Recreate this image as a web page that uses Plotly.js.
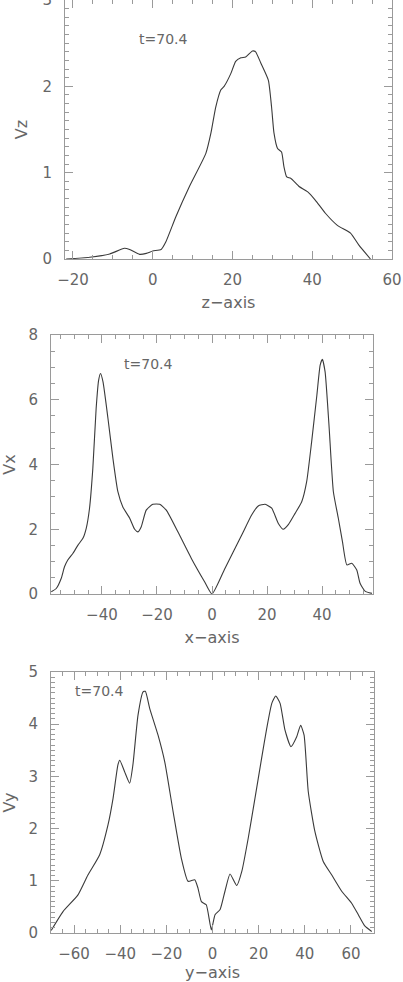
<!DOCTYPE html>
<html>
<head>
<meta charset="utf-8">
<script src="https://cdn.plot.ly/plotly-3.0.1.min.js"></script>
<style>
  html, body { margin: 0; padding: 0; background: #fff; }
  #chart { width: 403px; height: 982px; }
</style>
</head>
<body>
<div id="chart"></div>
<script>
// Vz along the z-axis
var zPos = [-21.7, -15.8, -10.8, -7.1, -5.8, -3.3, -1.6, 0, 2.1, 3.3, 5.8, 9.2, 13.3, 14.6, 15.8, 17.1, 17.9, 19.6, 20.8, 22.1, 23.3, 25.0, 25.8, 27.1, 29.0, 29.8, 30.4, 31.3, 32.3, 32.9, 33.6, 34.6, 36.7, 38.8, 40.8, 43.3, 46.3, 49.6, 51.7, 54.6];
var vz = [0, 0.02, 0.058, 0.124, 0.11, 0.054, 0.065, 0.093, 0.11, 0.2, 0.49, 0.84, 1.22, 1.46, 1.76, 1.96, 2.0, 2.15, 2.29, 2.33, 2.34, 2.41, 2.40, 2.27, 2.07, 1.76, 1.46, 1.28, 1.24, 1.07, 0.95, 0.935, 0.84, 0.78, 0.68, 0.53, 0.39, 0.30, 0.16, 0];

// Vx along the x-axis
var xPos = [-58.4, -56.6, -54.8, -53.6, -52.4, -50.5, -48.7, -46.9, -45.7, -44.5, -43.3, -42.1, -41.2, -40.5, -39.6, -37.8, -36.0, -34.2, -32.4, -29.9, -28.1, -26.9, -25.7, -23.9, -21.5, -19.0, -16.6, -12.4, -7.5, -2.7, 0, 4.7, 10.8, 14.4, 16.8, 19.3, 21.7, 24.1, 25.9, 27.8, 30.2, 32.6, 34.4, 36.2, 38.1, 39.3, 40.1, 41.1, 42.5, 44.1, 45.9, 47.4, 49.0, 50.8, 52.6, 53.8, 55.6, 58.1];
var vx = [0.07, 0.17, 0.48, 0.84, 1.05, 1.26, 1.51, 1.72, 2.03, 2.65, 3.88, 5.73, 6.6, 6.81, 6.55, 5.42, 4.19, 3.16, 2.69, 2.34, 2.0, 1.92, 2.08, 2.59, 2.77, 2.77, 2.59, 1.92, 1.10, 0.38, 0, 0.79, 1.82, 2.44, 2.72, 2.77, 2.65, 2.18, 2.0, 2.15, 2.49, 2.85, 3.47, 4.70, 6.14, 7.07, 7.25, 6.86, 5.22, 3.16, 2.34, 1.62, 0.90, 0.95, 0.74, 0.33, 0.09, 0.02];

// Vy along the y-axis
var yPos = [-69.9, -64.8, -58.3, -54.0, -48.9, -45.3, -43.1, -41.0, -40.2, -38.1, -35.9, -34.5, -32.3, -30.1, -29.1, -27.2, -23.6, -20.7, -17.1, -13.5, -10.6, -7.7, -6.3, -4.8, -2.7, -0.5, 1.1, 3.3, 5.4, 7.6, 10.5, 12.7, 15.5, 18.4, 21.3, 23.5, 25.7, 27.4, 29.3, 31.4, 34.0, 36.5, 38.2, 39.7, 41.5, 44.4, 48.0, 51.7, 56.0, 60.3, 63.2, 66.1, 69.0];
var vy = [0.05, 0.41, 0.73, 1.11, 1.50, 2.07, 2.58, 3.22, 3.31, 3.09, 2.87, 3.22, 4.17, 4.62, 4.63, 4.30, 3.79, 3.28, 2.33, 1.43, 0.99, 1.02, 0.86, 0.60, 0.54, 0.06, 0.35, 0.45, 0.80, 1.13, 0.91, 1.18, 1.82, 2.58, 3.35, 3.92, 4.40, 4.54, 4.40, 3.89, 3.57, 3.76, 3.98, 3.79, 2.71, 1.94, 1.37, 1.11, 0.80, 0.57, 0.35, 0.13, 0.03];

var W = 403, H = 982;
var frameColor = '#9a9a9a';
var textColor = '#666666';
var lineColor = '#3a3a3a';
var tickFont = {family: 'DejaVu Sans', size: 15, color: textColor};
var titleFont = {family: 'DejaVu Sans', size: 16, color: textColor};
var noteFont = {family: 'DejaVu Sans', size: 14, color: textColor};

function px(a, b) { return [a / W, b / W]; }
function py(top, bottom) { return [1 - bottom / H, 1 - top / H]; }

function xAxis(dom, range, anchor, title) {
  return {
    domain: dom, range: range, anchor: anchor,
    showline: true, linecolor: frameColor, linewidth: 1, mirror: 'allticks',
    ticks: 'inside', ticklen: 8, tickcolor: frameColor, dtick: 20, tick0: 0,
    minor: {ticks: 'inside', ticklen: 4, dtick: 5, tickcolor: frameColor, showgrid: false},
    showgrid: false, zeroline: false, tickfont: tickFont, ticklabelstandoff: 7,
    ticklabeloverflow: 'allow',
    title: {text: title, font: titleFont, standoff: 8}
  };
}
function yAxis(dom, range, anchor, title, major, minor) {
  return {
    domain: dom, range: range, anchor: anchor,
    showline: true, linecolor: frameColor, linewidth: 1, mirror: 'allticks',
    ticks: 'inside', ticklen: 8, tickcolor: frameColor, dtick: major, tick0: 0,
    minor: {ticks: 'inside', ticklen: 4, dtick: minor, tickcolor: frameColor, showgrid: false},
    showgrid: false, zeroline: false, tickfont: tickFont, ticklabelstandoff: 9,
    ticklabeloverflow: 'allow',
    title: {text: title, font: titleFont, standoff: 10}
  };
}

var lineStyle = {color: lineColor, width: 1.1, shape: 'spline', smoothing: 0.5};
var data = [
  {x: zPos, y: vz, xaxis: 'x', yaxis: 'y', type: 'scatter', mode: 'lines', line: lineStyle},
  {x: xPos, y: vx, xaxis: 'x2', yaxis: 'y2', type: 'scatter', mode: 'lines', line: lineStyle},
  {x: yPos, y: vy, xaxis: 'x3', yaxis: 'y3', type: 'scatter', mode: 'lines', line: lineStyle}
];

var layout = {
  width: W, height: H,
  margin: {l: 0, r: 0, t: 0, b: 0},
  paper_bgcolor: '#fff', plot_bgcolor: '#fff',
  showlegend: false,
  xaxis: xAxis(px(65, 392), [-22, 60], 'y', 'z\u2212axis'),
  yaxis: yAxis(py(0, 259), [0, 3], 'x', 'Vz', 1, 0.1),
  xaxis2: xAxis(px(51, 373), [-58.5, 58.5], 'y2', 'x\u2212axis'),
  yaxis2: yAxis(py(335, 594), [0, 8], 'x2', 'Vx', 2, 0.5),
  xaxis3: xAxis(px(51, 374), [-70, 70], 'y3', 'y\u2212axis'),
  yaxis3: yAxis(py(672, 933), [0, 5], 'x3', 'Vy', 1, 0.1),
  annotations: [
    {text: 't=70.4', xref: 'paper', yref: 'paper', xanchor: 'left', x: 137 / W, y: 1 - 29 / H, showarrow: false, font: noteFont},
    {text: 't=70.4', xref: 'paper', yref: 'paper', xanchor: 'left', x: 122 / W, y: 1 - 364 / H, showarrow: false, font: noteFont},
    {text: 't=70.4', xref: 'paper', yref: 'paper', xanchor: 'left', x: 73 / W, y: 1 - 701 / H, showarrow: false, font: noteFont}
  ]
};

Plotly.newPlot('chart', data, layout, {displayModeBar: false, staticPlot: true});
</script>
</body>
</html>
